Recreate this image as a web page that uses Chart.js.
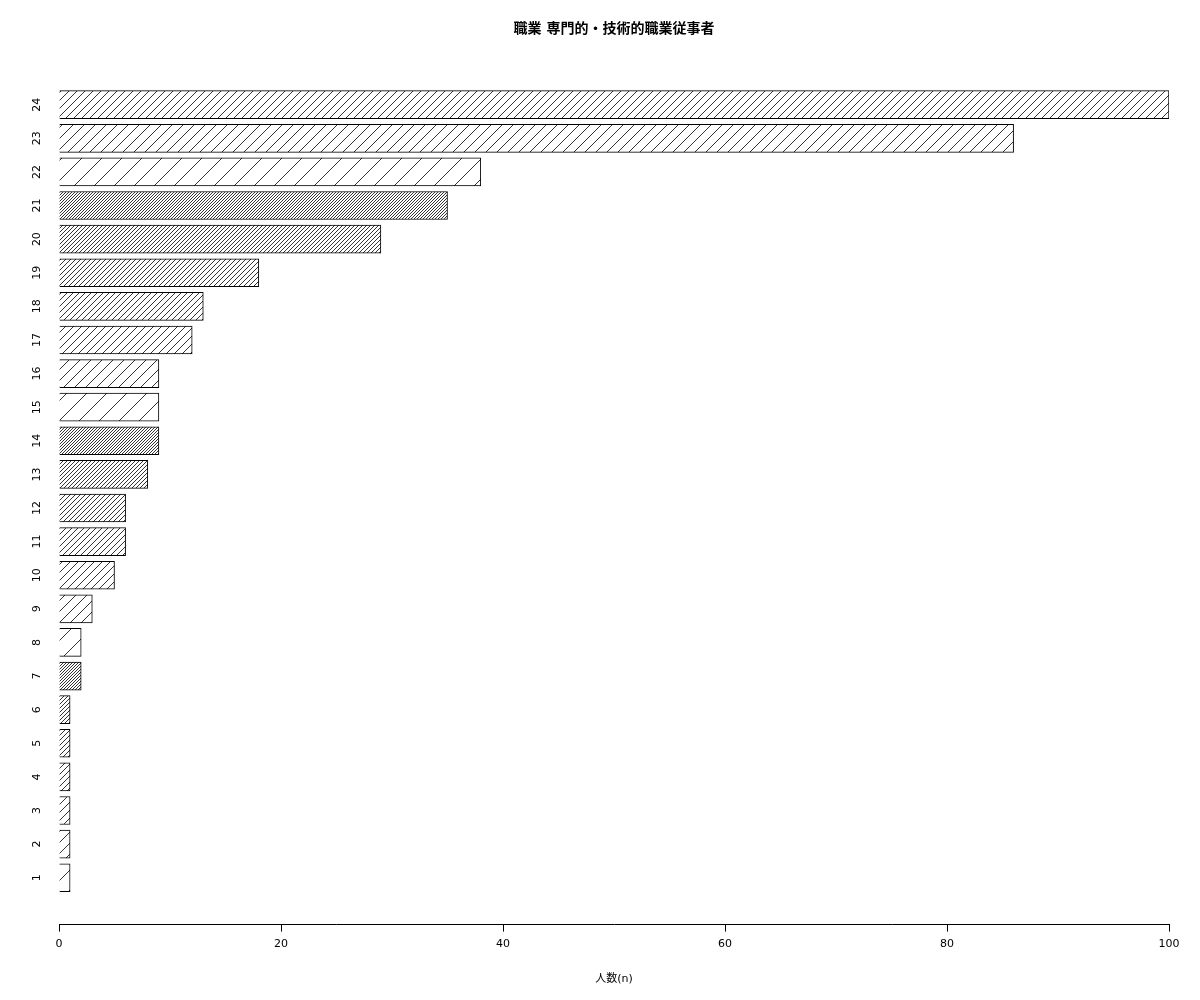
<!DOCTYPE html>
<html><head><meta charset="utf-8">
<script src="https://cdn.jsdelivr.net/npm/chart.js@4"></script>
<style>html,body{margin:0;padding:0;background:#fff}#w{width:1200px;height:1000px}</style>
</head><body><div id="w"><canvas id="c"></canvas></div>
<script>
const categories = ["1","2","3","4","5","6","7","8","9","10","11","12","13","14","15","16","17","18","19","20","21","22","23","24"];
const values = [1,1,1,1,1,1,2,2,3,5,6,6,8,9,9,9,12,13,18,29,35,38,86,100];
const xTicks = [0,20,40,60,80,100];
const hatchSpacing = [20,11,8,6,5,4,3];

function pattern(s){
  const c=document.createElement('canvas');c.width=s;c.height=s;
  const g=c.getContext('2d');g.fillStyle='#fff';g.fillRect(0,0,s,s);
  g.strokeStyle='#000';g.lineWidth=0.8;g.beginPath();
  g.moveTo(0,s);g.lineTo(s,0);g.moveTo(-1,1);g.lineTo(1,-1);g.moveTo(s-1,s+1);g.lineTo(s+1,s-1);g.stroke();
  return g.createPattern(c,'repeat');
}
const fills = values.map((v,i)=>pattern(hatchSpacing[i%7]));
const font = "'DejaVu Sans', 'Noto Sans CJK JP', sans-serif";

const yLabels = {id:'yl', afterDraw(ch){
  const g=ch.ctx, y=ch.scales.y;
  g.save();g.fillStyle='#000';g.font="11px "+font;g.textAlign='center';g.textBaseline='middle';
  categories.forEach((c,i)=>{const py=y.getPixelForValue(i+1);g.save();g.translate(37,py);g.rotate(-Math.PI/2);g.fillText(c,0,0);g.restore();});
  g.restore();
}};

new Chart(document.getElementById('c'),{
  type:'bar',
  data:{datasets:[{data:values.map((v,i)=>({x:v,y:i+1})),backgroundColor:fills,borderColor:'#000',borderWidth:1,barThickness:28}]},
  options:{
    indexAxis:'y',responsive:true,maintainAspectRatio:false,animation:false,
    layout:{padding:{left:59,right:31,top:0,bottom:10}},
    plugins:{legend:{display:false},tooltip:{enabled:false},
      title:{display:true,text:'職業 専門的・技術的職業従事者',color:'#000',font:{family:font,size:14,weight:'bold'},padding:{top:21,bottom:20}}},
    scales:{
      x:{type:'linear',min:0,max:100,afterBuildTicks(s){s.ticks=xTicks.map(v=>({value:v}));},
        grid:{display:true,drawOnChartArea:false,drawTicks:true,tickLength:7,color:'#000'},
        border:{display:true,color:'#000'},
        ticks:{color:'#000',font:{family:font,size:11},padding:6,maxRotation:0},
        title:{display:true,text:'人数(n)',color:'#000',font:{family:font,size:11},padding:{top:16}}},
      y:{type:'linear',min:-0.395,max:25.395,offset:false,display:false}
    }
  },
  plugins:[yLabels]
});
</script></body></html>
